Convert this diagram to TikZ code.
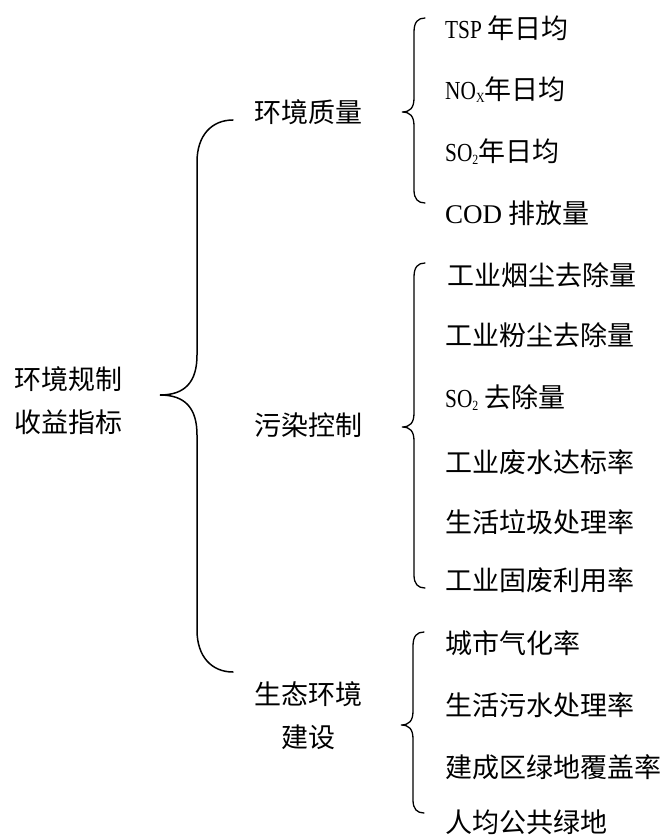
\documentclass[tikz,border=0pt]{standalone}
\usepackage{fontspec}
\setmainfont{Liberation Serif}
\newfontfamily\cjk{Noto Sans CJK SC}
\newcommand{\latsm}[1]{\scalebox{0.82}[1]{\rmfamily\fontsize{26}{30}\selectfont #1}}
\newcommand{\subsm}[1]{\raisebox{-3pt}{\scalebox{0.85}[1]{\rmfamily\fontsize{14}{14}\selectfont #1}}}
\begin{document}
\begin{tikzpicture}[x=1pt,y=-1pt,
  txt/.style={inner sep=0pt, font=\cjk\fontsize{27}{43}\selectfont},
  item/.style={txt, anchor=west},
  bigbrace/.style={line width=1.5pt, line cap=round},
  smallbrace/.style={line width=1.3pt, line cap=round}]
\useasboundingbox (0,0) rectangle (670,837);
% root
\node[txt, align=center] (root) at (68,401) {环境规制\\收益指标};
% level 2
\node[txt] (q) at (308,112) {环境质量};
\node[txt] (p) at (308,425) {污染控制};
\node[txt, align=center] (e) at (308,716) {生态环境\\建设};
% big brace
\draw[bigbrace] (233,120) .. controls (212,120) and (197,135) .. (197,162)
  -- (197,355) .. controls (197,382) and (185,395) .. (160,395)
  .. controls (185,395) and (197,408) .. (197,435)
  -- (197,630) .. controls (197,657) and (212,672) .. (233,672);
% brace 1
\draw[smallbrace] (425,18) .. controls (418,18) and (414,22) .. (414,32)
  -- (414,98) .. controls (414,108) and (410,112) .. (402,112)
  .. controls (410,112) and (414,116) .. (414,126)
  -- (414,190) .. controls (414,199) and (418,203) .. (425,203);
% brace 2
\draw[smallbrace] (425,263) .. controls (418,263) and (414,267) .. (414,277)
  -- (414,413) .. controls (414,423) and (410,427) .. (402,427)
  .. controls (410,427) and (414,431) .. (414,441)
  -- (414,575) .. controls (414,584) and (418,588) .. (425,588);
% brace 3
\draw[smallbrace] (424,632) .. controls (417,632) and (413,636) .. (413,646)
  -- (413,711) .. controls (413,721) and (409,725) .. (401,725)
  .. controls (409,725) and (413,729) .. (413,739)
  -- (413,800) .. controls (413,809) and (417,813) .. (424,813);
% items group 1
\node[item] (a1) at (445,28) {\latsm{TSP} 年日均};
\node[item] (a2) at (445,90) {\latsm{NO}\subsm{X}年日均};
\node[item] (a3) at (445,152) {\latsm{SO}\subsm{2}年日均};
\node[item] (a4) at (445,213) {{\rmfamily COD} 排放量};
% items group 2
\node[item] (b1) at (447,275) {工业烟尘去除量};
\node[item] (b2) at (445,335) {工业粉尘去除量};
\node[item] (b3) at (445,398) {\latsm{SO}\subsm{2} 去除量};
\node[item] (b4) at (445,462) {工业废水达标率};
\node[item] (b5) at (445,522) {生活垃圾处理率};
\node[item] (b6) at (445,580) {工业固废利用率};
% items group 3
\node[item] (c1) at (445,643) {城市气化率};
\node[item] (c2) at (445,705) {生活污水处理率};
\node[item] (c3) at (445,767) {建成区绿地覆盖率};
\node[item] (c4) at (445,822) {人均公共绿地};
\end{tikzpicture}
\end{document}
